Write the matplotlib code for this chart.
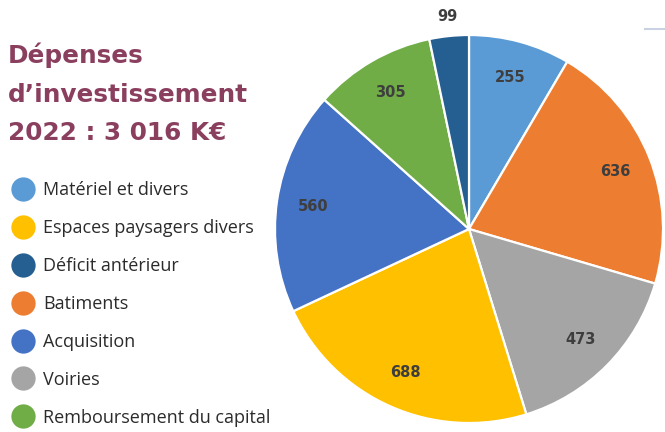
import matplotlib.pyplot as plt
from matplotlib.lines import Line2D
import numpy as np

# pie order, clockwise from 12 o'clock
categories = ['Matériel et divers', 'Batiments', 'Voiries', 'Espaces paysagers divers',
              'Acquisition', 'Remboursement du capital', 'Déficit antérieur']
values = [255, 636, 473, 688, 560, 305, 99]
colors = ['#5B9BD5', '#ED7D31', '#A5A5A5', '#FFC000', '#4472C4', '#70AD47', '#255E91']

legend_order = ['Matériel et divers', 'Espaces paysagers divers', 'Déficit antérieur',
                'Batiments', 'Acquisition', 'Voiries', 'Remboursement du capital']

title_lines = ['Dépenses', 'd\u2019investissement', '2022 : 3 016 K€']

W, H = 665, 432
fig = plt.figure(figsize=(W / 100, H / 100), dpi=100)

# pie axes: center ~ (469, 229) px from top, radius ~194 px
r_px = 194
cx, cy = 469, H - 229
ax = fig.add_axes([(cx - r_px) / W, (cy - r_px) / H, 2 * r_px / W, 2 * r_px / H])
wedges, _ = ax.pie(values, colors=colors, startangle=90, counterclock=False, radius=1,
                   wedgeprops=dict(edgecolor='white', linewidth=1.6))
ax.set_xlim(-1, 1)
ax.set_ylim(-1, 1)
ax.set_aspect('equal')
ax.axis('off')

for w, v in zip(wedges, values):
    ang = np.deg2rad((w.theta1 + w.theta2) / 2)
    dist = 1.10 if v < 150 else 0.81
    ax.text(dist * np.cos(ang), dist * np.sin(ang), str(v), ha='center', va='center',
            fontsize=10.5, fontweight='bold', color='#3E3E3E', family='DejaVu Sans',
            clip_on=False)

# title
for line, base in zip(title_lines, [63, 102, 140]):
    fig.text(8 / W, 1 - base / H, line, ha='left', va='baseline', fontsize=17.8,
             fontweight='bold', color='#8A3F5F', family='DejaVu Sans')

# legend with round markers
col_map = dict(zip(categories, colors))
handles = [Line2D([], [], marker='o', linestyle='none', markersize=17.5,
                  markerfacecolor=col_map[c], markeredgecolor='none') for c in legend_order]
fig.legend(handles, legend_order, loc='upper left', bbox_to_anchor=(7 / W, 1 - 176 / H),
           frameon=False, prop=dict(family='Open Sans', size=13), labelcolor='#2B2B2B',
           handlelength=1.15, handletextpad=0.54, labelspacing=1.10, borderaxespad=0,
           borderpad=0.3)

# faint decorative stroke at top right
fig.add_artist(Line2D([645 / W, 1.0], [1 - 29 / H, 1 - 29 / H], color='#C9D1E3', linewidth=1.5))

fig.savefig('out.png', dpi=100)
